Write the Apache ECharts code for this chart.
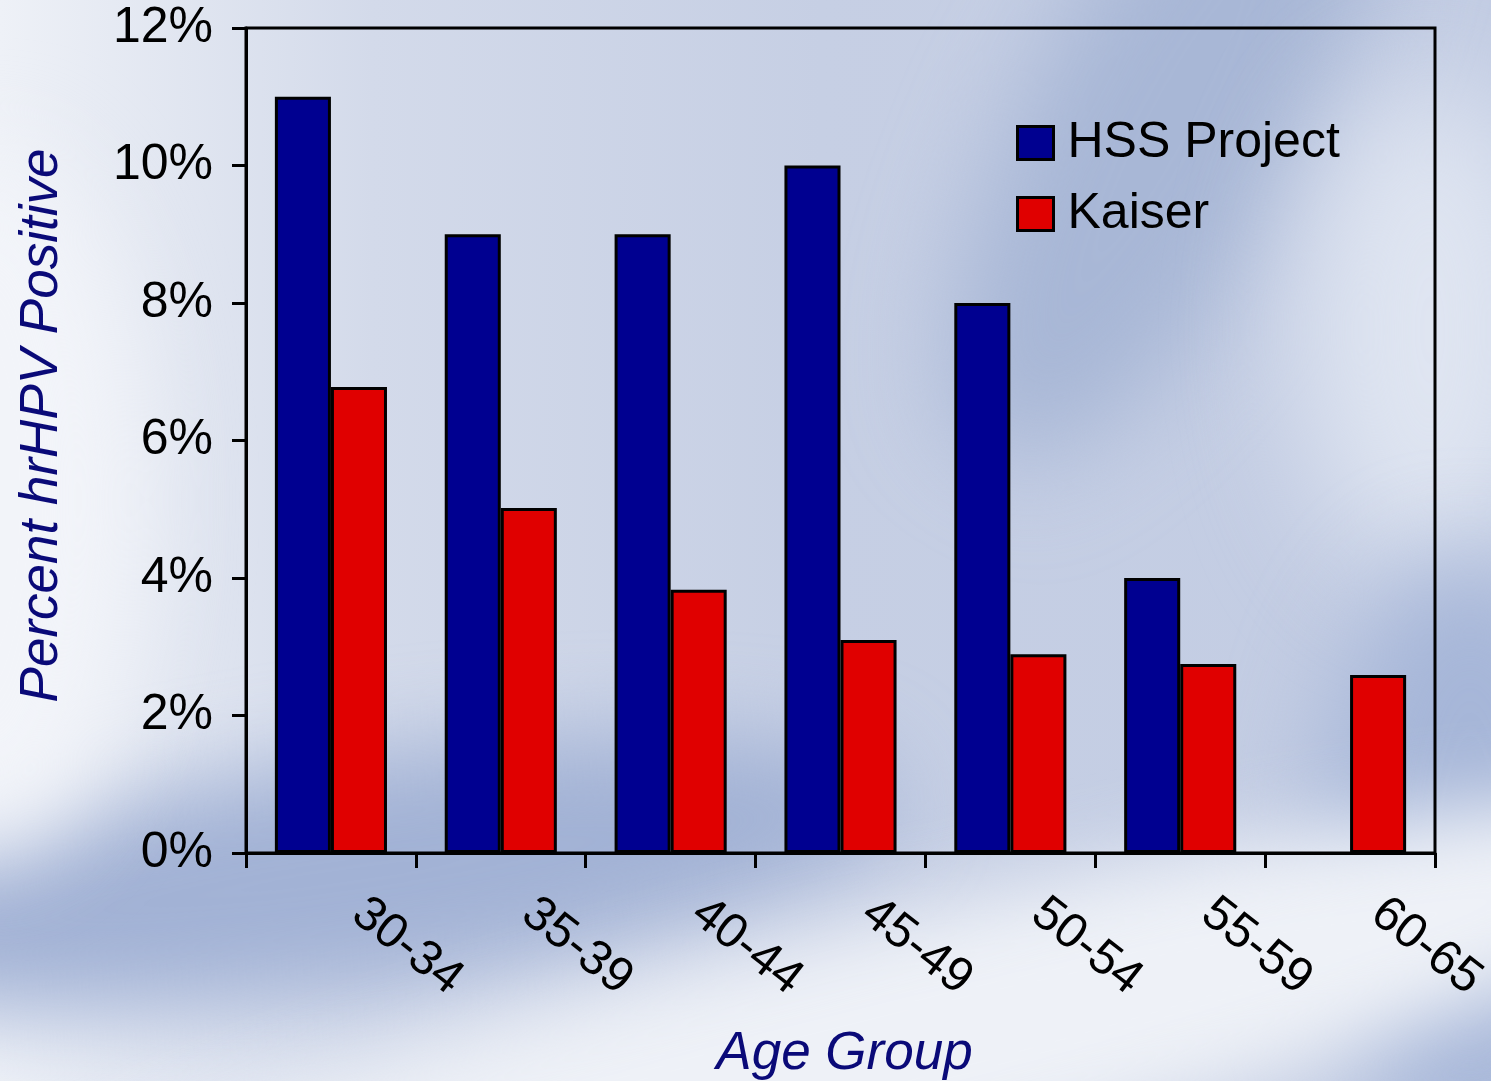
<!DOCTYPE html>
<html>
<head>
<meta charset="utf-8">
<title>hrHPV positivity by age group</title>
<script src="https://cdn.jsdelivr.net/npm/echarts@6/dist/echarts.min.js"></script>
<style>
  html, body { margin: 0; padding: 0; width: 1491px; height: 1081px; overflow: hidden; }
  #bg { position: absolute; left: 0; top: 0; width: 1491px; height: 1081px; overflow: hidden;
        background: linear-gradient(90deg, #eef1f7 0%, #d3daea 25%, #c6cfe4 55%, #c2cce3 100%); }
  .blob { position: absolute; border-radius: 50%; filter: blur(40px); }
  #chart { position: absolute; left: 0; top: 0; width: 1491px; height: 1081px; }
</style>
</head>
<body>
<div id="bg">
  <!-- darker blue streak at top right -->
  <div class="blob" style="left:1030px; top:-260px; width:280px; height:760px; background:#a8b7d6; transform:rotate(28deg); filter:blur(50px);"></div>
  <!-- pale area on the right -->
  <div class="blob" style="left:1300px; top:80px; width:260px; height:500px; background:#dfe5f1; filter:blur(60px);"></div>
  <!-- darker band low on the left -->
  <div class="blob" style="left:-200px; top:760px; width:1100px; height:230px; background:#a2b2d5; transform:rotate(-8deg); filter:blur(45px);"></div>
  <!-- darker corner at bottom right -->
  <div class="blob" style="left:1320px; top:560px; width:300px; height:600px; background:#a6b6d8; filter:blur(50px);"></div>
  <!-- pale swoosh across the bottom -->
  <div class="blob" style="left:-100px; top:930px; width:1900px; height:260px; background:#eef1f7; transform:rotate(-14deg); filter:blur(40px);"></div>
  <!-- pale left edge -->
  <div class="blob" style="left:-160px; top:150px; width:300px; height:700px; background:#f2f4f9; filter:blur(50px);"></div>
</div>
<div id="chart"></div>
<script>
// Age groups on the category axis
const ageGroups = ['30-34', '35-39', '40-44', '45-49', '50-54', '55-59', '60-65'];
// Percent of women testing positive for high-risk HPV
const hssProject = [11.0, 9.0, 9.0, 10.0, 8.0, 4.0, null];
const kaiser = [6.78, 5.02, 3.83, 3.10, 2.89, 2.75, 2.59];
// Value axis ticks
const yTicks = [0, 2, 4, 6, 8, 10, 12];

const FONT = '"Liberation Sans", Arial, sans-serif';
const chart = echarts.init(document.getElementById('chart'), null, { renderer: 'canvas' });

chart.setOption({
  backgroundColor: 'transparent',
  animation: false,
  grid: {
    left: 246, right: 56, top: 28, bottom: 228,
    containLabel: false, outerBoundsMode: 'none',
    show: true, borderColor: '#000', borderWidth: 3, backgroundColor: 'transparent'
  },
  legend: {
    orient: 'vertical',
    left: 1016, top: 118, padding: 0,
    icon: 'rect',
    itemWidth: 36, itemHeight: 33, itemGap: 21,
    textStyle: { fontFamily: FONT, fontSize: 50, color: '#000', padding: [0, 0, 0, 9] },
    data: [
      { name: 'HSS Project', itemStyle: { borderColor: '#000', borderWidth: 3 } },
      { name: 'Kaiser', itemStyle: { borderColor: '#000', borderWidth: 3 } }
    ]
  },
  xAxis: {
    type: 'category',
    data: ageGroups,
    boundaryGap: true,
    axisLine: { lineStyle: { color: '#000', width: 3 } },
    axisTick: { show: true, length: 15, inside: false, alignWithLabel: false, lineStyle: { color: '#000', width: 3 } },
    axisLabel: {
      rotate: -38, margin: 34, interval: 0,
      fontFamily: FONT, fontSize: 49, color: '#000',
      padding: [0, 0, 0, 34]
    },
    name: 'Age Group',
    nameLocation: 'middle',
    nameGap: 175,
    nameTextStyle: { fontFamily: FONT, fontSize: 53, fontStyle: 'italic', color: '#0a0a78', padding: [0, 0, 0, 8] }
  },
  yAxis: {
    type: 'value',
    min: yTicks[0], max: yTicks[yTicks.length - 1], interval: yTicks[1] - yTicks[0],
    splitLine: { show: false },
    axisLine: { show: true, lineStyle: { color: '#000', width: 3 } },
    axisTick: { show: true, length: 14, lineStyle: { color: '#000', width: 3 } },
    axisLabel: {
      margin: 33, fontFamily: FONT, fontSize: 50, color: '#000',
      formatter: v => v + '%'
    },
    name: 'Percent hrHPV Positive',
    nameLocation: 'middle',
    nameGap: 177,
    nameRotate: 90,
    nameTextStyle: { fontFamily: FONT, fontSize: 53, fontStyle: 'italic', color: '#0a0a78', padding: [0, 0, 0, 30] }
  },
  series: [
    {
      name: 'HSS Project', type: 'bar', data: hssProject,
      barWidth: '33%', barGap: '0%',
      itemStyle: { color: '#000090', borderColor: '#000', borderWidth: 3 }
    },
    {
      name: 'Kaiser', type: 'bar', data: kaiser,
      barWidth: '33%', barGap: '0%',
      itemStyle: { color: '#e00000', borderColor: '#000', borderWidth: 3 }
    }
  ]
});
</script>
</body>
</html>
